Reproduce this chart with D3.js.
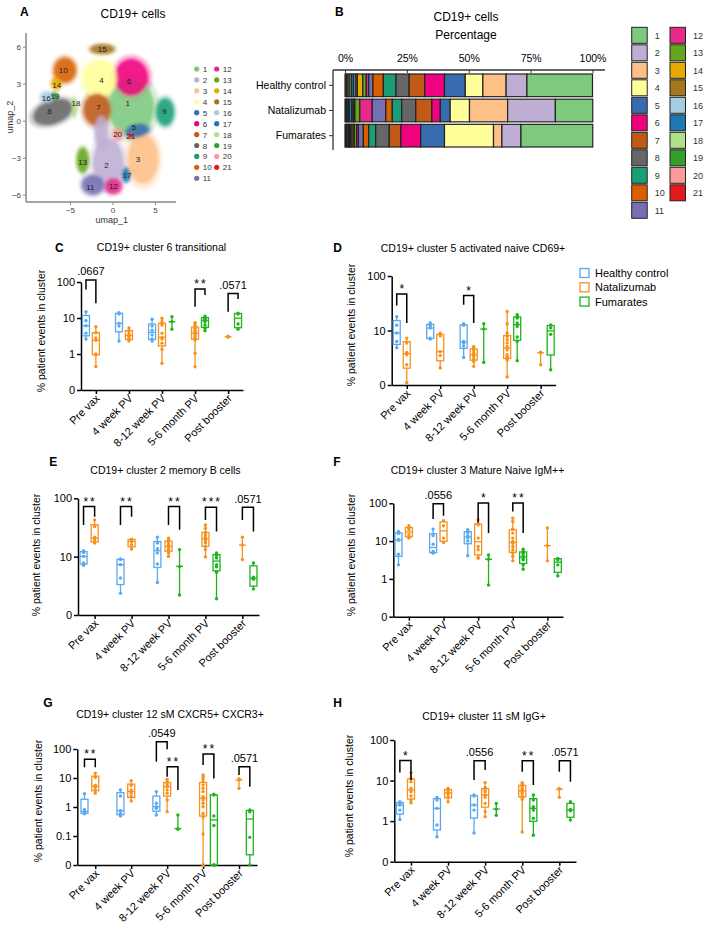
<!DOCTYPE html>
<html>
<head>
<meta charset="utf-8">
<script src="https://cdn.jsdelivr.net/npm/d3@7"></script>
<style>
html, body { margin: 0; padding: 0; background: #fff; }
svg { display: block; font-family: "Liberation Sans", Arial, sans-serif; }
</style>
</head>
<body>
<div id="fig"></div>
<script>
const W = 705, H = 929

// ---------- data ----------
const clusterIds = d3.range(1, 22)
const clusterColors = ["#7fc97f", "#beaed4", "#fdc086", "#ffff99", "#386cb0", "#f0027f", "#bf5b17",
  "#666666", "#1b9e77", "#d95f02", "#7570b3", "#e7298a", "#66a61e", "#e6ab02", "#a6761d",
  "#a6cee3", "#1f78b4", "#b2df8a", "#33a02c", "#fb9a99", "#e31a1c"]

// umap blobs: cluster, umap_1, umap_2, radius 1, radius 2, tilt
const umapBlobs = [
  [1, 2.2, 1.1, 2.7, 2.3, 0], [6, 2.2, 3.5, 2.0, 1.5, 0], [4, -1.5, 3.4, 2.0, 1.5, 0],
  [7, -1.8, 0.9, 1.6, 1.3, 0], [3, 3.6, -3.1, 1.8, 2.0, 0], [2, -0.5, -3.4, 1.8, 2.0, 0],
  [2, -1.3, -0.9, 0.8, 1.3, 0], [5, 2.9, -0.8, 1.4, 0.55, -10], [9, 6.2, 0.7, 1.05, 1.1, 0],
  [8, -7.0, 0.7, 2.4, 0.95, -20], [10, -5.6, 4.1, 1.3, 1.0, 0], [11, -2.3, -5.2, 1.3, 0.8, 0],
  [12, 0.1, -5.3, 1.0, 0.65, 0], [13, -3.5, -3.2, 0.7, 1.0, 0], [14, -6.6, 3.0, 0.6, 0.5, 0],
  [15, -1.2, 5.8, 1.4, 0.4, 0], [16, -7.7, 1.9, 0.8, 0.45, 0], [17, 1.6, -4.4, 0.5, 0.6, 0],
  [18, -4.5, 1.1, 0.3, 0.8, 0], [19, -6.8, 2.0, 0.4, 0.3, 0], [20, 0.6, -1.1, 0.6, 0.5, 0],
  [21, 2.2, -1.2, 0.35, 0.2, 0]
]
const umapLabels = [
  [1, 1.8, 1.4], [2, -0.7, -3.6], [3, 3.0, -3.1], [4, -1.3, 3.3], [5, 2.5, -0.55], [6, 1.95, 3.2],
  [7, -1.65, 1.1], [8, -7.4, 0.75], [9, 6.1, 0.75], [10, -5.8, 4.15], [11, -2.6, -5.35],
  [12, 0.1, -5.3], [13, -3.5, -3.35], [14, -6.55, 2.9], [15, -1.2, 5.8], [16, -7.8, 1.85],
  [17, 1.7, -4.4], [18, -4.3, 1.4], [19, -6.75, 2.0], [20, 0.6, -1.1], [21, 2.15, -1.2]
]

// cluster share (%) of CD19+ cells, clusters 1..21
const barGroups = ["Healthy control", "Natalizumab", "Fumarates"]
const hcPct = [26.5, 8.4, 9.4, 7.1, 8.4, 8.0, 6.3, 5.3, 5.1, 4.2, 1.7, 1.0, 1.4, 2.2, 0.6, 0.8, 0.9, 0.7, 0.8, 0.6, 0.6]
const natPct = [15.1, 19.3, 15.4, 7.8, 4.0, 3.4, 6.5, 5.7, 3.8, 2.6, 5.5, 5.0, 2.0, 0.4, 0.4, 0.5, 1.0, 0.4, 0.5, 0.4, 0.4]
const fumPct = [29.0, 7.7, 3.4, 19.8, 9.6, 8.0, 4.7, 5.5, 2.8, 2.2, 2.0, 0.7, 0.9, 0.5, 0.8, 0.4, 0.4, 0.4, 0.5, 0.4, 0.4]
const pctTicks = [0, 25, 50, 75, 100]

const timepoints = ["Pre vax", "4 week PV", "8-12 week PV", "5-6 month PV", "Post booster"]
const groups = ["Healthy control", "Natalizumab", "Fumarates"]
const groupColors = ["#5aa8f0", "#f7911d", "#1eb41e"]

// [timepoint, group, % events per patient]
const clus6 = [
  [0, 0, [2.6, 3.8, 6.1, 8.4, 15]], [0, 1, [0.45, 0.95, 1.0, 2.4, 2.8, 3.9, 5.7]],
  [1, 0, [2.3, 6.0, 7.1, 12.9, 14]], [1, 1, [2.3, 2.6, 3.0, 3.5, 4.2, 5.3]],
  [2, 0, [2.3, 2.6, 3.4, 4.6, 6.0, 9.2]], [2, 1, [0.55, 1.35, 2.0, 2.6, 2.9, 3.8, 6.4, 7.9, 9.8]], [2, 2, [4.9, 7.9, 10.8]],
  [3, 1, [0.44, 1.05, 2.45, 2.7, 3.0, 3.4, 3.8, 4.2, 4.6, 5.2, 6.0, 6.8, 7.4]], [3, 2, [4.4, 5.2, 6.4, 7.9, 9.2, 9.8, 10.4, 11.3]],
  [4, 1, [2.95, 3.0, 3.1]], [4, 2, [4.9, 6.8, 12.9, 13.5]]
]
const clus5 = [
  [0, 0, [4.8, 6.3, 9.0, 12.5, 18]], [0, 1, [1.1, 2.35, 3.6, 3.95, 5.9, 7.25]],
  [1, 0, [7.0, 7.25, 11.1, 12.2, 13.7]], [1, 1, [2.05, 3.5, 4.1, 8.0, 8.9]],
  [2, 0, [3.2, 5.2, 5.9, 6.3, 12.5, 13.3]], [2, 1, [2.2, 2.7, 3.0, 3.35, 3.6, 3.95, 4.4, 4.75, 5.1]], [2, 2, [2.6, 10.6, 13.3]],
  [3, 1, [1.4, 2.9, 3.0, 3.1, 3.3, 3.6, 4.4, 5.1, 5.9, 6.75, 7.8, 8.9, 13.3, 22.3]], [3, 2, [2.8, 6.3, 7.6, 11.9, 13.7, 16.9, 18.0, 19.4]],
  [4, 1, [2.35, 3.9, 4.0]], [4, 2, [1.9, 8.5, 11.2, 12.7]]
]
const clus2 = [
  [0, 0, [7.1, 7.8, 10.1, 11.8, 12.6]], [0, 1, [17.1, 18.2, 20.0, 21.6, 32.8, 42.6]],
  [1, 0, [2.35, 4.3, 7.3, 8.9, 9.1]], [1, 1, [13.5, 16.0, 18.2, 19.5, 20.0]],
  [2, 0, [3.6, 7.5, 11.6, 13.7, 17.1, 21.6]], [2, 1, [10.1, 11.6, 13.2, 14.1, 15.0, 16.0, 17.5, 19.5, 20.8]], [2, 2, [2.2, 6.8, 13.2]],
  [3, 1, [9.9, 13.2, 15.0, 17.1, 18.2, 20.0, 21.6, 23.7, 26.0, 30.8, 35.0]], [3, 2, [1.9, 5.4, 6.7, 7.3, 9.5, 10.4, 11.0, 11.6]],
  [4, 1, [8.9, 15.8, 21.6]], [4, 2, [2.8, 4.1, 4.45, 7.8]]
]
const clus3 = [
  [0, 0, [2.35, 4.5, 10.5, 11, 16, 18]], [0, 1, [12, 13.3, 14.7, 20, 22.2, 25.4]],
  [1, 0, [4.8, 5.0, 5.3, 8.3, 14.0, 20.8]], [1, 1, [9.2, 12, 25.4, 34.5]],
  [2, 0, [4.1, 10, 12, 13.8, 17, 20]], [2, 1, [3.5, 3.8, 5.9, 7.2, 12, 27.1, 28.8, 36.6]], [2, 2, [0.69, 3.3, 4.3]],
  [3, 1, [3.0, 3.9, 4.8, 5.9, 7.2, 8.8, 9.8, 12, 16.3, 20.8, 33, 40.5]], [3, 2, [1.8, 2.35, 3.2, 3.5, 4.1, 4.8, 5.3, 6.1]],
  [4, 1, [3.0, 7.6, 22.2]], [4, 2, [1.2, 2.35, 3.2, 3.5]]
]
const clus12 = [
  [0, 0, [0.58, 0.62, 0.7, 0.8, 2.9]], [0, 1, [3.0, 3.85, 4.8, 5.7, 10.6, 14.5]],
  [1, 0, [0.49, 0.6, 0.75, 2.4, 3.85]], [1, 1, [1.6, 2.3, 3.0, 3.9, 5.5, 8.1]],
  [2, 0, [0.53, 0.9, 1.03, 1.34, 3.4]], [2, 1, [0.69, 1.74, 3.0, 3.85, 5.0, 5.7, 6.55, 7.45, 9.0]], [2, 2, [0.17, 0.18, 0.53]],
  [3, 1, [0, 0, 0.117, 0.45, 0.6, 1.02, 1.34, 1.74, 2.27, 3.4, 4.4, 5.7, 7.4, 9.2, 11.1, 12.7]], [3, 2, [0, 0, 0.23, 0.49, 2.6, 2.74]],
  [4, 1, [4.4, 8.5, 9.5]], [4, 2, [0, 0.09, 0.68, 0.79]]
]
const clus11 = [
  [0, 0, [1.1, 1.87, 2.49, 2.74, 3.0]], [0, 1, [2.84, 3.3, 4.15, 5.3, 6.4, 9.4, 11.4, 15.7]],
  [1, 0, [0.41, 0.8, 2.06, 3.3, 3.86]], [1, 1, [3.0, 4.0, 4.66, 5.3, 5.85, 6.4]],
  [2, 0, [0.51, 1.87, 2.49, 4.15, 4.4]], [2, 1, [1.28, 1.7, 2.74, 3.86, 4.4, 5.3, 5.85, 6.8, 8.9]], [2, 2, [1.4, 1.98, 2.74]],
  [3, 1, [0.54, 3.45, 3.86, 4.15, 4.85, 5.3, 5.85, 6.4, 7.1, 7.8, 8.2, 8.9]], [3, 2, [0.45, 1.17, 1.87, 2.26, 3.3, 4.4]],
  [4, 1, [3.86, 6.1, 6.4]], [4, 2, [1.06, 1.8, 1.95, 3.0]]
]

// significance: [timepoint, from group, to group, label, bar top, left leg end, right leg end]
const clus6Sig = [[0, 0, 1, ".0667", 114, 62, 25.6], [3, 1, 2, "**", 64, 20.6, 43.6], [4, 1, 2, ".0571", 48, 15, 33.6]]
const clus5Sig = [[0, 0, 1, "*", 46.5, 28.8, 13.7], [2, 0, 1, "*", 43.8, 29.6, 13.7]]
const clus2Sig = [[0, 0, 1, "**", 72, 35, 48.5], [1, 0, 1, "**", 72, 35, 48.5], [2, 1, 2, "**", 72, 35, 28.8],
  [3, 1, 2, "***", 70.3, 42.6, 26.9], [4, 1, 2, ".0571", 70, 42.6, 26.9]]
const clus3Sig = [[1, 0, 1, ".0556", 97.5, 38.4, 47], [2, 1, 2, "*", 101.6, 31.2, 16.3], [3, 1, 2, "**", 101.6, 61, 16.3]]
const clus12Sig = [[0, 0, 1, "**", 44, 23.4, 23.4], [2, 0, 1, ".0549", 178, 36.5, 98], [2, 1, 2, "**", 24.5, 11, 3.85],
  [3, 1, 2, "**", 67, 28, 9.7], [4, 1, 2, ".0571", 24.5, 12.7, 5.0]]
const clus11Sig = [[0, 0, 1, "*", 31.1, 15.7, 10.4], [2, 0, 1, ".0556", 31, 10.4, 18.3], [3, 1, 2, "**", 31, 16.6, 7.8],
  [4, 1, 2, ".0571", 31, 16.6, 9.4]]

// ---------- drawing ----------
const svg = d3.select("#fig").append("svg").attr("width", W).attr("height", H).attr("viewBox", [0, 0, W, H])

function letter(t, x, y) {
  svg.append("text").attr("x", x).attr("y", y).attr("font-size", 12).attr("font-weight", "bold").text(t)
}

// ---- A: umap ----
letter("A", 20, 16)
svg.append("text").attr("x", 133).attr("y", 17.5).attr("text-anchor", "middle").attr("font-size", 12).text("CD19+ cells")

const ux = d3.scaleLinear().domain([-5, 5]).range([70, 155])
const uy = d3.scaleLinear().domain([-6, 6]).range([194.7, 46.7])
const cColor = id => clusterColors[id - 1]

svg.append("defs").append("filter").attr("id", "soft")
  .attr("x", "-50%").attr("y", "-50%").attr("width", "200%").attr("height", "200%")
  .append("feGaussianBlur").attr("stdDeviation", 1.4)

const blobAttrs = (sel, k) => sel
  .attr("cx", d => ux(d[1])).attr("cy", d => uy(d[2]))
  .attr("rx", d => (ux(d[3]) - ux(0)) * k).attr("ry", d => (uy(0) - uy(d[4])) * k)
  .attr("transform", d => `rotate(${d[5]},${ux(d[1])},${uy(d[2])})`)
  .attr("fill", d => cColor(d[0]))

const halo = svg.append("g").attr("filter", "url(#soft)")
blobAttrs(halo.selectAll("ellipse").data(umapBlobs).join("ellipse"), 1.25).attr("fill-opacity", 0.3)
const core = svg.append("g").attr("filter", "url(#soft)")
blobAttrs(core.selectAll("ellipse").data(umapBlobs).join("ellipse"), 1).attr("fill-opacity", 0.85)

svg.append("g").selectAll("text").data(umapLabels).join("text")
  .attr("x", d => ux(d[1])).attr("y", d => uy(d[2]) + 3)
  .attr("text-anchor", "middle").attr("font-size", 8).attr("fill", "#222").text(d => d[0])

const uAxisY = svg.append("g").attr("transform", "translate(26,0)")
  .call(d3.axisLeft(uy).tickValues([-6, -3, 0, 3, 6]).tickSize(3).tickPadding(2).tickSizeOuter(0))
uAxisY.select(".domain").remove()
svg.append("line").attr("x1", 26).attr("x2", 26).attr("y1", 33).attr("y2", 202).attr("stroke", "#888").attr("stroke-width", 1.5)
const uAxisX = svg.append("g").attr("transform", "translate(0,202)")
  .call(d3.axisBottom(ux).tickValues([-5, 0, 5]).tickSize(3).tickPadding(2).tickSizeOuter(0))
uAxisX.select(".domain").remove()
svg.append("line").attr("x1", 26).attr("x2", 176).attr("y1", 202).attr("y2", 202).attr("stroke", "#888").attr("stroke-width", 1.5)
for (const ax of [uAxisY, uAxisX]) {
  ax.attr("font-family", null).attr("font-size", 8)
  ax.selectAll("line").attr("stroke", "#888")
  ax.selectAll("text").attr("fill", "#444")
}
svg.append("text").attr("transform", "translate(13,117) rotate(-90)").attr("text-anchor", "middle")
  .attr("font-size", 9).attr("fill", "#333").text("umap_2")
svg.append("text").attr("x", 111.7).attr("y", 223).attr("text-anchor", "middle")
  .attr("font-size", 9).attr("fill", "#333").text("umap_1")

// umap legend
const uLeg = svg.append("g").attr("font-size", 8).attr("fill", "#333")
clusterIds.forEach((id, i) => {
  const col = i < 11 ? 0 : 1, row = i < 11 ? i : i - 11
  const lx = 196.7 + col * 20, ly = 69 + row * 10.93
  uLeg.append("circle").attr("cx", lx).attr("cy", ly).attr("r", 2.6).attr("fill", cColor(id))
  uLeg.append("text").attr("x", lx + 6).attr("y", ly + 3).text(id)
})

// ---- B: stacked composition ----
letter("B", 335, 16)
svg.append("text").attr("x", 466).attr("y", 21).attr("text-anchor", "middle").attr("font-size", 12).text("CD19+ cells")
svg.append("text").attr("x", 466).attr("y", 38.5).attr("text-anchor", "middle").attr("font-size", 12).text("Percentage")

const bx = d3.scaleLinear().domain([0, 100]).range([345, 592.5])
const by = d3.scaleBand().domain(barGroups).range([74, 147]).paddingInner(0.1)
const pctRows = [hcPct, natPct, fumPct]

barGroups.forEach((grp, gi) => {
  let acc = 0
  const segs = []
  for (let c = 21; c >= 1; c--) {
    const v = pctRows[gi][c - 1]
    segs.push({ c, x0: acc, x1: acc + v })
    acc += v
  }
  svg.append("g").selectAll("rect").data(segs).join("rect")
    .attr("x", d => bx(d.x0)).attr("width", d => bx(d.x1) - bx(d.x0))
    .attr("y", by(grp)).attr("height", by.bandwidth())
    .attr("fill", d => cColor(d.c)).attr("stroke", "#222").attr("stroke-width", 1.2)
})

svg.append("line").attr("x1", 333).attr("x2", 605).attr("y1", 70).attr("y2", 70).attr("stroke", "#333").attr("stroke-width", 1.3)
svg.append("line").attr("x1", 333).attr("x2", 333).attr("y1", 70).attr("y2", 150).attr("stroke", "#333").attr("stroke-width", 1.3)
const bAxis = svg.append("g").attr("transform", "translate(0,70)")
  .call(d3.axisTop(bx).tickValues(pctTicks).tickFormat(d => d + "%").tickSize(-3).tickPadding(8).tickSizeOuter(0))
bAxis.select(".domain").remove()
bAxis.attr("font-family", null).attr("font-size", 10.5)
bAxis.selectAll("line").attr("stroke", "#333")
const bAxisL = svg.append("g").attr("transform", "translate(333,0)")
  .call(d3.axisLeft(by).tickSize(4).tickPadding(3).tickSizeOuter(0))
bAxisL.select(".domain").remove()
bAxisL.attr("font-family", null).attr("font-size", 10.5)
bAxisL.selectAll("line").attr("stroke", "#333")

// B legend
const bLeg = svg.append("g").attr("font-size", 9).attr("fill", "#333")
clusterIds.forEach((id, i) => {
  const col = i < 11 ? 0 : 1, row = i < 11 ? i : i - 11
  const lx = 631.7 + col * 38.3, ly = 27.3 + row * 17.5
  bLeg.append("rect").attr("x", lx).attr("y", ly).attr("width", 15.5).attr("height", 16)
    .attr("fill", cColor(id)).attr("stroke", "#222").attr("stroke-width", 1)
  bLeg.append("text").attr("x", lx + 23).attr("y", ly + 11.5).text(id)
})

// ---- C-H: box plots ----
function quant(s, p) {
  const n = s.length, pos = (n + 1) * p
  if (pos <= 1) return s[0]
  if (pos >= n) return s[n - 1]
  const lo = Math.floor(pos), f = pos - lo
  return s[lo - 1] + f * (s[lo] - s[lo - 1])
}

const panels = [
  { L: "C", lp: [55, 252.3], title: "CD19+ cluster 6 transitional", tp: [161.5, 250.7], data: clus6, sig: clus6Sig,
    floor: 0.1, ticks: [0.1, 1, 10, 100], x: [81, 243], y: [390, 282], pad: 0.45, yl: [45, 331] },
  { L: "D", lp: [333.3, 252.3], title: "CD19+ cluster 5 activated naive CD69+", tp: [473, 251.7], data: clus5, sig: clus5Sig,
    floor: 1, ticks: [1, 10, 100], x: [391.7, 555.7], y: [385, 276], pad: 0.45, yl: [355, 325], legend: true },
  { L: "E", lp: [49.3, 466], title: "CD19+ cluster 2 memory B cells", tp: [165.5, 474.4], data: clus2, sig: clus2Sig,
    floor: 1, ticks: [1, 10, 100], x: [78, 259], y: [615, 498.3], pad: 0.45, yl: [40, 555] },
  { L: "F", lp: [333.3, 466], title: "CD19+ cluster 3 Mature Naive IgM++", tp: [477.5, 474.4], data: clus3, sig: clus3Sig,
    floor: 0.1, ticks: [0.1, 1, 10, 100], x: [393.3, 563], y: [616.7, 503.3], pad: 0.45, yl: [355, 555] },
  { L: "G", lp: [43.3, 707.3], title: "CD19+ cluster 12 sM CXCR5+ CXCR3+", tp: [170, 717.7], data: clus12, sig: clus12Sig,
    floor: 0.01, ticks: [0.01, 0.1, 1, 10, 100], x: [77.3, 257], y: [865, 749], pad: 0.5, yl: [41.7, 801] },
  { L: "H", lp: [333.3, 707.3], title: "CD19+ cluster 11 sM IgG+", tp: [484, 719.7], data: clus11, sig: clus11Sig,
    floor: 0.1, ticks: [0.1, 1, 10, 100], x: [394.3, 576], y: [861.7, 740], pad: 0.45, yl: [353, 796] }
]

function drawBoxPanel(p) {
  const g = svg.append("g")
  letter(p.L, p.lp[0], p.lp[1])
  g.append("text").attr("x", p.tp[0]).attr("y", p.tp[1]).attr("text-anchor", "middle").attr("font-size", 10.5).text(p.title)
  g.append("text").attr("transform", `translate(${p.yl[0]},${p.yl[1]}) rotate(-90)`).attr("text-anchor", "middle")
    .attr("font-size", 10.5).text("% patient events in cluster")

  const xs = d3.scalePoint().domain(d3.range(timepoints.length)).range(p.x).padding(p.pad)
  const off = xs.step() * 0.3
  const ys = d3.scaleLog().domain([p.floor, 100]).range(p.y)
  const yv = v => ys(Math.max(v, p.floor))
  const cx = (t, s) => xs(t) + (s - 1) * off
  const bw = 7

  const ay = g.append("g").attr("transform", `translate(${p.x[0]},0)`)
    .call(d3.axisLeft(ys).tickValues(p.ticks).tickFormat(d => d === p.floor ? "0" : d3.format("~g")(d))
      .tickSize(4).tickPadding(2).tickSizeOuter(0))
  const ax = g.append("g").attr("transform", `translate(0,${p.y[0]})`)
    .call(d3.axisBottom(xs).tickFormat(i => timepoints[i]).tickSize(4).tickSizeOuter(0))
  ax.selectAll("text").attr("x", 0).attr("y", 0).attr("dy", null)
    .attr("text-anchor", "end").attr("transform", "translate(4,9) rotate(-45)")
  for (const a of [ay, ax]) {
    a.attr("font-family", null).attr("font-size", 11)
    a.selectAll("path, line").attr("stroke", "#000").attr("stroke-width", 1.5)
    a.selectAll("text").attr("fill", "#000")
  }

  for (const [t, s, vals] of p.data) {
    const col = groupColors[s]
    const x = cx(t, s)
    const v = vals.slice().sort(d3.ascending)
    const n = v.length
    const q1 = quant(v, 0.25), med = quant(v, 0.5), q3 = quant(v, 0.75)
    g.append("line").attr("x1", x).attr("x2", x).attr("y1", yv(v[0])).attr("y2", yv(v[n - 1]))
      .attr("stroke", col).attr("stroke-width", 1.3)
    if (n > 3) {
      g.append("rect").attr("x", x - bw / 2).attr("width", bw).attr("y", yv(q3)).attr("height", yv(q1) - yv(q3))
        .attr("fill", "#fff").attr("stroke", col).attr("stroke-width", 1.3)
    }
    g.append("line").attr("x1", x - bw / 2).attr("x2", x + bw / 2).attr("y1", yv(med)).attr("y2", yv(med))
      .attr("stroke", col).attr("stroke-width", 1.3)
    g.append("g").selectAll("circle").data(v).join("circle")
      .attr("cx", x).attr("cy", d => yv(d)).attr("r", 1.7).attr("fill", col)
  }

  for (const [t, a, b, lab, top, le, re] of p.sig) {
    const xa = cx(t, a), xb = cx(t, b)
    g.append("path").attr("d", `M${xa},${yv(le)}V${yv(top)}H${xb}V${yv(re)}`)
      .attr("fill", "none").attr("stroke", "#000").attr("stroke-width", 1.5)
    const star = lab.startsWith("*")
    g.append("text").attr("x", (xa + xb) / 2 + (star ? 1 : 0)).attr("y", yv(top) - (star ? 1 : 4.5))
      .attr("text-anchor", "middle").attr("font-size", star ? 12 : 11)
      .attr("letter-spacing", star ? 2 : 0).text(lab)
  }

  if (p.legend) {
    const lg = g.append("g").attr("font-size", 11)
    groups.forEach((name, i) => {
      const ly = 273 + i * 14.3
      lg.append("rect").attr("x", 580).attr("y", ly - 4.5).attr("width", 9).attr("height", 9)
        .attr("fill", "none").attr("stroke", groupColors[i]).attr("stroke-width", 1.3)
      lg.append("text").attr("x", 595).attr("y", ly + 4).text(name)
    })
  }
}

panels.forEach(drawBoxPanel)
</script>
</body>
</html>
